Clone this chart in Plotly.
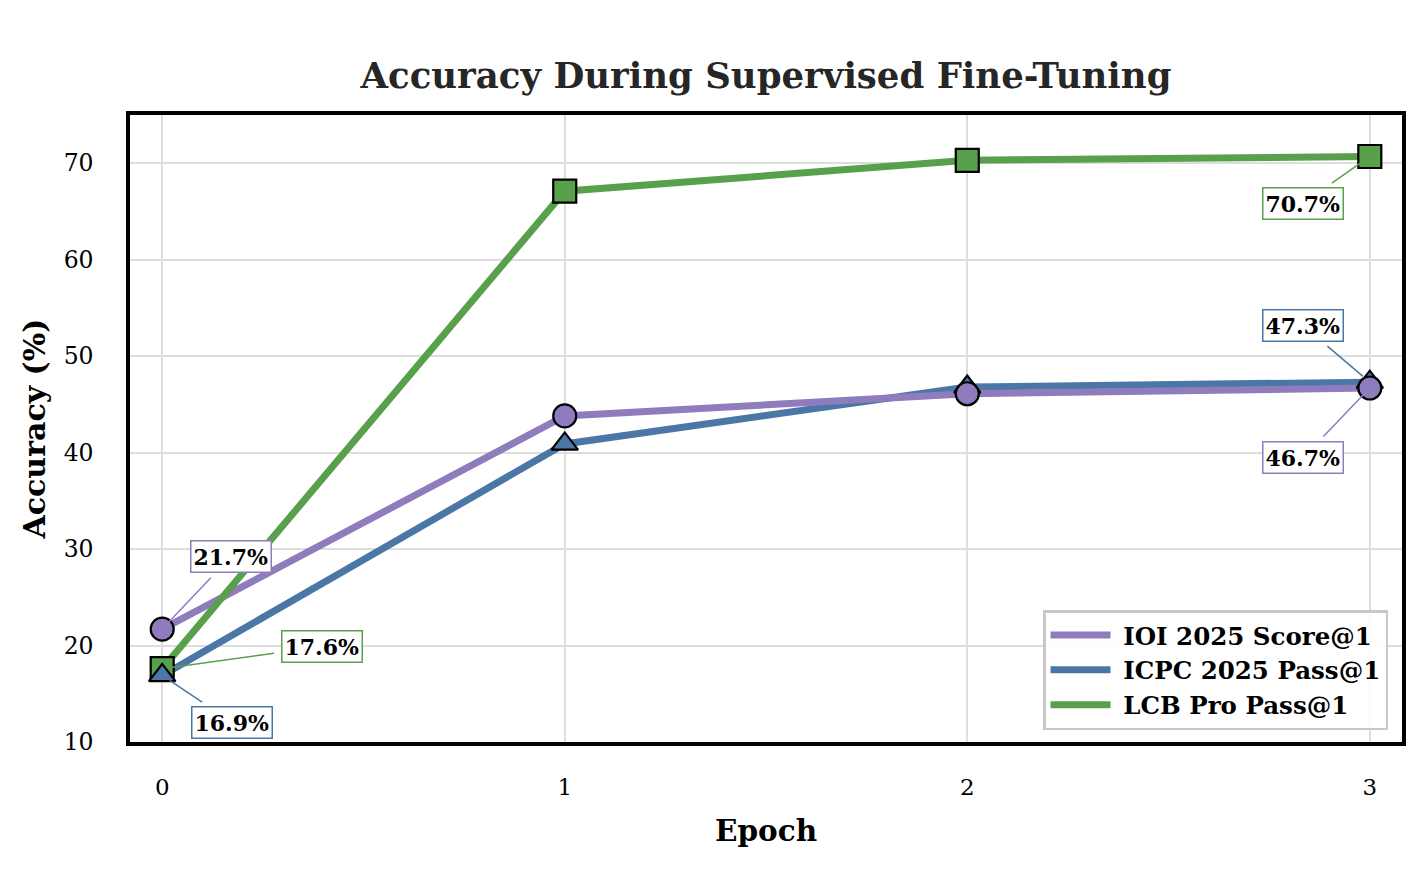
import plotly.graph_objects as go

epochs = [0, 1, 2, 3]
ioi_score = [21.7, 43.8, 46.1, 46.7]
icpc_pass = [16.9, 40.9, 46.8, 47.3]
lcb_pass = [17.6, 67.1, 70.3, 70.7]

series_names = ["IOI 2025 Score@1", "ICPC 2025 Pass@1", "LCB Pro Pass@1"]

PURPLE = "#8E7CBD"
BLUE = "#4A77A6"
GREEN = "#58A04C"
FONT = "DejaVu Serif"

fig = go.Figure()

# lines first, in this stacking order
for y, col in [(icpc_pass, BLUE), (ioi_score, PURPLE), (lcb_pass, GREEN)]:
    fig.add_trace(go.Scatter(x=epochs, y=y, mode="lines", line=dict(color=col, width=7),
                             showlegend=False, hoverinfo="skip"))

# markers on top
for y, col, sym in [(lcb_pass, GREEN, "square"), (icpc_pass, BLUE, "triangle-up"),
                    (ioi_score, PURPLE, "circle")]:
    fig.add_trace(go.Scatter(x=epochs, y=y, mode="markers",
                             marker=dict(color=col, symbol=sym, size=23,
                                         line=dict(color="black", width=2.2)),
                             showlegend=False))

# legend-only entries (lines only)
for name, col in zip(series_names, [PURPLE, BLUE, GREEN]):
    fig.add_trace(go.Scatter(x=[None], y=[None], mode="lines",
                             name=f"\u00a0<b>{name}</b>",
                             line=dict(color=col, width=7)))

# value labels at first and last epoch: (series, index, color, ax, ay)
labels = [
    (ioi_score, 0, PURPLE, 69, -73),
    (lcb_pass, 0, GREEN, 160, -22),
    (icpc_pass, 0, BLUE, 70, 47),
    (lcb_pass, 3, GREEN, -67, 47),
    (icpc_pass, 3, BLUE, -67, -57),
    (ioi_score, 3, PURPLE, -67, 70),
]
for ys, i, col, ax, ay in labels:
    fig.add_annotation(x=epochs[i], y=ys[i], text=f"<b>{ys[i]:.1f}%</b>",
                       showarrow=True, arrowhead=0, arrowwidth=1.5, arrowcolor=col,
                       ax=ax, ay=ay, standoff=9, startstandoff=8,
                       bgcolor="white", bordercolor=col, borderwidth=1.5, borderpad=2,
                       font=dict(family=FONT, size=22, color="black"))

# page body has an 8px margin, so the figure is sized to fit inside it
fig.update_layout(
    width=1400, height=872,
    paper_bgcolor="white", plot_bgcolor="white",
    margin=dict(l=122, r=2, t=107, b=138),
    title=dict(text="<b>Accuracy During Supervised Fine-Tuning</b>", x=0.5, xref="paper",
               xanchor="center", y=0.922, yanchor="middle",
               font=dict(family=FONT, size=35.5, color="#262626")),
    font=dict(family=FONT, size=22, color="black"),
    legend=dict(x=0.989, y=0.019, xanchor="right", yanchor="bottom",
                bgcolor="rgba(255,255,255,0.9)", bordercolor="#c8c8c8", borderwidth=2.5,
                font=dict(family=FONT, size=24.5, color="black"),
                itemwidth=60),
)

fig.update_xaxes(range=[-0.08, 3.08], tickvals=epochs, showgrid=True, gridcolor="#dddddd",
                 gridwidth=1.5, zeroline=False, showline=True, linecolor="black",
                 linewidth=3.5, mirror=True, ticks="outside", ticklen=22,
                 tickcolor="rgba(0,0,0,0)", tickfont=dict(size=23),
                 title=dict(text="<b>Epoch</b>", font=dict(size=29.5), standoff=22))
fig.update_yaxes(range=[10, 75], dtick=10, showgrid=True, gridcolor="#dddddd",
                 gridwidth=1.5, zeroline=False, showline=True, linecolor="black",
                 linewidth=3.5, mirror=True, ticks="outside", ticklen=28,
                 tickcolor="rgba(0,0,0,0)", tickfont=dict(size=23.5),
                 title=dict(text="<b>Accuracy (%)</b>", font=dict(size=30), standoff=10))

fig.write_html("out.html")
